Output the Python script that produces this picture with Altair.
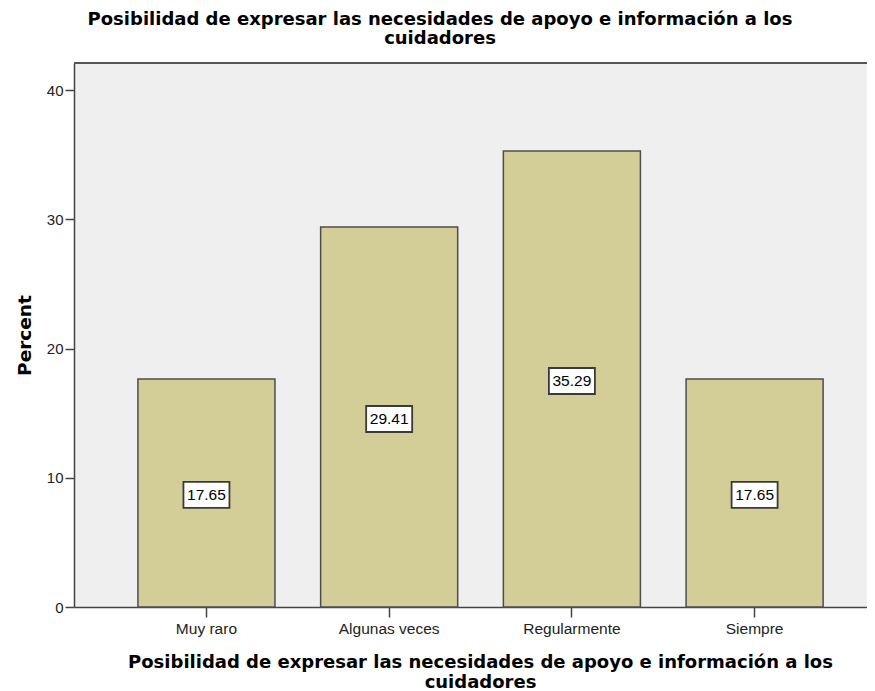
import altair as alt
import pandas as pd

categories = ["Muy raro", "Algunas veces", "Regularmente", "Siempre"]
percents = [17.65, 29.41, 35.29, 17.65]
y_ticks = [0, 10, 20, 30, 40]
title_lines = ["Posibilidad de expresar las necesidades de apoyo e información a los", "cuidadores"]
axis_title_lines = ["Posibilidad de expresar las necesidades de apoyo e información a los", "cuidadores"]

df = pd.DataFrame({"cat": categories, "pct": percents})

W, H = 793, 544

x_enc = alt.X(
    "cat:N",
    sort=categories,
    scale=alt.Scale(paddingInner=0.25, paddingOuter=0.295, align=0.593),
    axis=alt.Axis(
        title=axis_title_lines,
        titleFont="DejaVu Sans",
        titleFontWeight="bold",
        titleFontSize=18,
        titleColor="#000000",
        titleX=406,
        titleY=60,
        titleBaseline="alphabetic",
        titleAlign="center",
        titleLineHeight=20,
        labelAngle=0,
        labelFont="Liberation Sans",
        labelFontSize=15.5,
        labelColor="#222222",
        labelPadding=4,
        tickSize=10,
        tickColor="#444444",
        tickWidth=1.5,
        domainColor="#444444",
        domainWidth=1.5,
    ),
)

y_scale = alt.Scale(domain=[0, 42.1], nice=False, zero=True)

bars = alt.Chart(df).mark_bar(
    fill="#D3CE97", stroke="#4D4D4D", strokeWidth=1.5
).encode(
    x=x_enc,
    y=alt.Y(
        "pct:Q",
        scale=y_scale,
        axis=alt.Axis(
            title="Percent",
            titleFont="DejaVu Sans",
            titleFontWeight="bold",
            titleFontSize=18.5,
            titleColor="#000000",
            titleX=-44,
            titleY=272,
            titleBaseline="alphabetic",
            titleAlign="center",
            values=y_ticks,
            grid=False,
            labelFont="Liberation Sans",
            labelFontSize=15,
            labelColor="#222222",
            labelPadding=2,
            tickSize=9,
            tickColor="#444444",
            tickWidth=1.5,
            domainColor="#444444",
            domainWidth=1.5,
        ),
    ),
)

base_lbl = alt.Chart(df).transform_calculate(half="datum.pct / 2")

boxes = base_lbl.mark_point(
    shape="M-1,-0.565L1,-0.565L1,0.565L-1,0.565Z",
    size=2116,
    filled=True,
    fill="#FFFFFF",
    stroke="#3A3A3A",
    strokeWidth=1.8,
    opacity=1,
    yOffset=2,
).encode(
    x=alt.X("cat:N", sort=categories),
    y=alt.Y("half:Q", scale=y_scale),
)

texts = base_lbl.mark_text(
    font="Liberation Sans",
    fontSize=15.5,
    color="#000000",
    baseline="middle",
    align="center",
    yOffset=2,
).encode(
    x=alt.X("cat:N", sort=categories),
    y=alt.Y("half:Q", scale=y_scale),
    text=alt.Text("pct:Q", format=".2f"),
)

top_line = alt.Chart(df).mark_rule(stroke="#555555", strokeWidth=2).encode(
    x=alt.value(0), x2=alt.value(W), y=alt.value(0)
)

chart = alt.layer(bars, boxes, texts, top_line).properties(
    width=W,
    height=H,
    background="#FFFFFF",
    autosize=alt.AutoSizeParams(type="none"),
    padding={"left": 66, "top": 55, "right": 0, "bottom": 83},
    title=alt.TitleParams(
        text=title_lines,
        font="DejaVu Sans",
        fontWeight="bold",
        fontSize=18,
        lineHeight=19,
        color="#000000",
        anchor="middle",
        dx=-30.5,
        offset=14,
    ),
).configure_view(fill="#EFEFEF", strokeWidth=0)

chart.save("out.html", embed_options={"renderer": "svg", "actions": False})
